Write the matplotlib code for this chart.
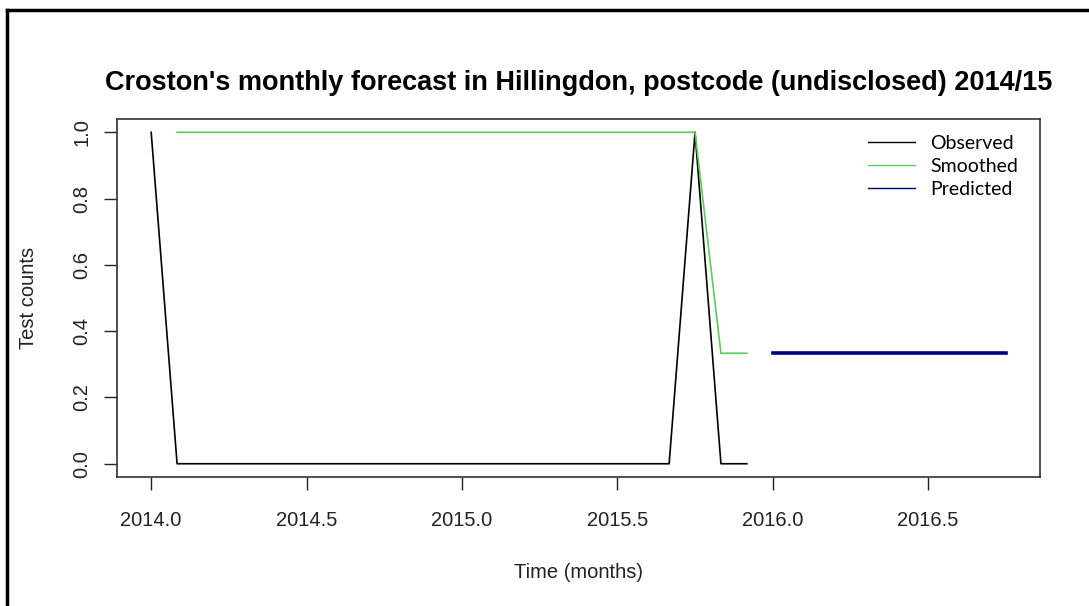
import numpy as np
import matplotlib.pyplot as plt
from matplotlib.lines import Line2D

# monthly time index (years)
obs_time = [2014 + i / 12 for i in range(24)]
observed = [1] + [0] * 20 + [1, 0, 0]

smooth_time = obs_time[1:]
smoothed = [1] * 21 + [1 / 3, 1 / 3]

pred_time = [2016 + i / 12 for i in range(10)]
predicted = [1 / 3] * 10

xticks = [2014.0, 2014.5, 2015.0, 2015.5, 2016.0, 2016.5]
yticks = [0.0, 0.2, 0.4, 0.6, 0.8, 1.0]

plt.rcParams['font.family'] = ['Liberation Sans', 'DejaVu Sans']

W, H = 1089, 606
fig = plt.figure(figsize=(W / 100, H / 100), dpi=100)
ax = fig.add_axes([117 / W, 1 - 477 / H, (1040 - 117) / W, (477 - 119) / H])

ax.plot(obs_time, observed, color='black', lw=1.2)
ax.plot(smooth_time, smoothed, color='#5ccc5c', lw=1.2)
ax.plot(pred_time, predicted, color='#000080', lw=2.6)

ax.set_xlim(2014 - 0.04 * 2.75, 2016.75 + 0.04 * 2.75)
ax.set_ylim(-0.04, 1.04)
ax.set_xticks(xticks)
ax.set_xticklabels([f'{t:.1f}' for t in xticks], fontsize=14.5, color='#222222')
ax.set_yticks(yticks)
ax.set_yticklabels([f'{t:.1f}' for t in yticks], fontsize=14.5, rotation=90,
                   va='center', color='#222222')
ax.tick_params(length=9.5, width=1, colors='#222222')
ax.tick_params(axis='x', pad=15)
ax.tick_params(axis='y', pad=9)
for s in ax.spines.values():
    s.set_linewidth(1.2)
    s.set_color('#333333')

ax.set_xlabel('Time (months)', fontsize=14.5, labelpad=24, color='#222222')
ax.set_ylabel('Test counts', fontsize=14.5, labelpad=25, color='#222222')
ax.set_title("Croston's monthly forecast in Hillingdon, postcode (undisclosed) 2014/15",
             fontsize=19.5, fontweight='bold', pad=21)

handles = [Line2D([], [], color='black', lw=1),
           Line2D([], [], color='#5ccc5c', lw=1),
           Line2D([], [], color='#000080', lw=1)]
ax.legend(handles, ['Observed', 'Smoothed', 'Predicted'], frameon=False,
          loc='upper left',
          bbox_to_anchor=((868 - 117) / (1040 - 117), (477 - 135) / (477 - 119)),
          prop={'family': 'Lato', 'size': 14}, handlelength=2.4,
          handletextpad=0.8, labelspacing=0.3, borderpad=0, borderaxespad=0)

# outer frame (top and left edges only)
fig.add_artist(Line2D([7 / W, 1], [1 - 10 / H, 1 - 10 / H], color='black', lw=2.5,
                      transform=fig.transFigure))
fig.add_artist(Line2D([7 / W, 7 / W], [0, 1 - 10 / H], color='black', lw=2.5,
                      transform=fig.transFigure))

fig.savefig('out.png', dpi=100)
